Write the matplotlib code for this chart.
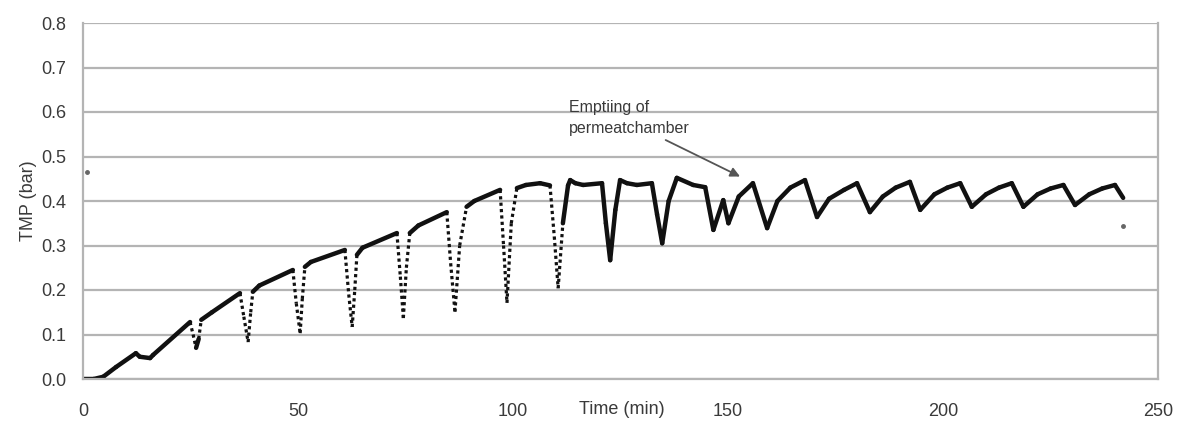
import matplotlib
matplotlib.use("Agg")
import matplotlib.pyplot as plt

# ---- data ----
time_min = [0, 2.5, 4.7, 7.7, 12.3, 13.2, 15.6, 16.3, 24.9, 25.6, 26.3, 26.9, 27.5,
            30.0, 36.5, 37.4, 38.4, 39.0, 39.5, 41.0, 48.8, 49.6, 50.5, 51.0, 51.6,
            53.0, 60.9, 61.8, 62.6, 63.2, 63.7, 65.0, 73.0, 73.8, 74.5, 75.2, 76.0,
            78.0, 84.6, 85.5, 86.5, 87.6, 89.2, 91.0, 97.0, 97.8, 98.6, 99.6, 100.9,
            103.0, 106.3, 108.6, 109.6, 110.5, 111.6, 112.8, 113.3, 114.5, 116.3,
            120.7, 121.6, 122.6, 123.8, 124.9, 126.5, 128.8, 132.3, 133.5, 134.7,
            136.2, 138.1, 141.9, 144.7, 146.6, 148.9, 150.1, 152.5, 155.8, 159.1,
            161.5, 164.5, 167.9, 170.7, 173.5, 177.0, 180.0, 183.0, 186.0, 189.0,
            192.3, 194.7, 198.0, 201.0, 204.0, 206.7, 210.0, 213.0, 216.0, 218.7,
            222.0, 225.0, 228.0, 230.7, 234.0, 237.0, 240.0, 241.9]
tmp_bar = [0.0, 0.0, 0.005, 0.027, 0.058, 0.050, 0.047, 0.054, 0.128, 0.10, 0.07, 0.09, 0.133,
           0.15, 0.193, 0.14, 0.083, 0.15, 0.196, 0.21, 0.245, 0.17, 0.103, 0.18, 0.252,
           0.263, 0.29, 0.19, 0.117, 0.20, 0.279, 0.295, 0.328, 0.23, 0.137, 0.25, 0.328,
           0.345, 0.375, 0.26, 0.151, 0.30, 0.387, 0.40, 0.425, 0.30, 0.171, 0.35, 0.429,
           0.436, 0.44, 0.435, 0.32, 0.204, 0.35, 0.435, 0.447, 0.44, 0.436,
           0.44, 0.35, 0.267, 0.38, 0.447, 0.44, 0.436, 0.44, 0.37, 0.305,
           0.40, 0.452, 0.436, 0.431, 0.335, 0.402, 0.35, 0.41, 0.44, 0.339,
           0.40, 0.43, 0.447, 0.364, 0.405, 0.425, 0.44, 0.375, 0.41, 0.43,
           0.443, 0.38, 0.415, 0.43, 0.44, 0.387, 0.415, 0.43, 0.44, 0.387,
           0.415, 0.428, 0.436, 0.391, 0.415, 0.428, 0.436, 0.407]
stray_time = [0.9, 241.9]
stray_tmp = [0.465, 0.344]

x_ticks = [0, 50, 100, 150, 200, 250]
y_ticks = [0.0, 0.1, 0.2, 0.3, 0.4, 0.5, 0.6, 0.7, 0.8]

annot_text = "Emptiing of\npermeatchamber"
annot_tip = (152.8, 0.455)
annot_tail = (135.5, 0.537)
annot_text_pos = (113.0, 0.545)

plt.rcParams['font.family'] = ['Liberation Sans', 'DejaVu Sans']

fig = plt.figure(figsize=(11.83, 4.25), dpi=100)
ax = fig.add_axes([83/1183, 1-379/425, 1075/1183, 356/425])

grid_c = '#b4b4b4'
text_c = '#3a3a3a'

# draw series: steep early drops dotted, rest solid
for i in range(len(time_min) - 1):
    t0, t1 = time_min[i], time_min[i+1]
    y0, y1 = tmp_bar[i], tmp_bar[i+1]
    slope = abs((y1 - y0) / (t1 - t0))
    if slope > 0.035 and t1 < 112 and t0 > 20:
        ax.plot([t0, t1], [y0, y1], color='#111111', lw=2.3,
                linestyle=(0, (1.0, 1.0)))
    else:
        ax.plot([t0, t1], [y0, y1], color='#111111', lw=3.2,
                solid_capstyle='round')
ax.plot(stray_time, stray_tmp, linestyle='none', marker='o', ms=2.5, color='#666666')

ax.set_xlim(0, 250)
ax.set_ylim(0, 0.8)
ax.set_xticks(x_ticks)
ax.set_yticks(y_ticks)
ax.set_xticklabels([str(v) for v in x_ticks])
ax.set_yticklabels([f"{v:.1f}" for v in y_ticks])
ax.tick_params(axis='both', length=0, labelsize=13, colors=text_c)
ax.tick_params(axis='x', pad=17)
ax.tick_params(axis='y', pad=12)

ax.yaxis.grid(True, color=grid_c, lw=1.6)
ax.set_axisbelow(True)
for side in ['left', 'bottom', 'right']:
    ax.spines[side].set_color(grid_c)
    ax.spines[side].set_linewidth(1.6)
ax.spines['top'].set_visible(False)

ax.set_ylabel("TMP (bar)", fontsize=13, color=text_c, labelpad=3)
ax.text(0.501, -0.087, "Time (min)", transform=ax.transAxes, ha='center',
        va='center', fontsize=13, color=text_c)

ax.text(annot_text_pos[0], annot_text_pos[1], annot_text, fontsize=11.5,
        color=text_c, ha='left', va='bottom', linespacing=1.5)
ax.annotate('', xy=annot_tip, xytext=annot_tail,
            arrowprops=dict(arrowstyle='-|>', color='#555555', lw=1.3,
                            shrinkA=0, shrinkB=0, mutation_scale=14))

fig.savefig("out.png", dpi=100)
